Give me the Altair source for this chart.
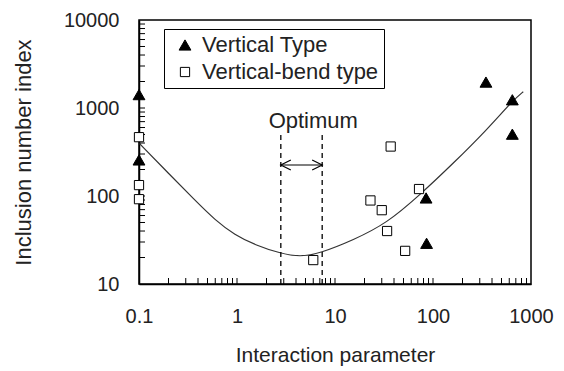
import altair as alt
import pandas as pd

# ---- data ----
series = ["Vertical Type", "Vertical-bend type"]

vt_x = [0.1, 0.1, 85, 86, 347, 645, 645]
vt_y = [1420, 257, 95, 29, 1970, 1240, 504]

vb_x = [0.1, 0.1, 0.1, 6.0, 23, 30, 34, 52, 72, 37]
vb_y = [466, 133, 92, 18.7, 89, 69, 40, 23.8, 120, 365]

curve_x = [0.1, 0.2, 0.37, 0.6, 0.95, 1.53, 2.75, 4.4, 7.0, 15.4, 33.7, 73.6, 161, 353, 659, 834]
curve_y = [400, 181, 90, 53, 36, 27.8, 22.3, 20.3, 22.3, 31.6, 48.9, 103, 235, 562, 1233, 1531]

opt_lo, opt_hi = 2.8, 7.4
opt_top = 533
arrow_y = 225
opt_label = "Optimum"
opt_label_x, opt_label_y = 6.0, 593

x_major = [0.1, 1, 10, 100, 1000]
y_major = [10, 100, 1000, 10000]
x_minor = [0.2, 0.3, 0.4, 0.5, 0.6, 0.7, 0.8, 0.9, 1,
           2, 3, 4, 5, 6, 7, 8, 9, 10,
           20, 30, 40, 50, 60, 70, 80, 90, 100,
           200, 300, 400, 500, 600, 700, 800, 900]
y_minor = [20, 30, 40, 50, 60, 70, 80, 90, 100,
           200, 300, 400, 500, 600, 700, 800, 900, 1000,
           2000, 3000, 4000, 5000, 6000, 7000, 8000, 9000]

W, H = 392, 264
FONT = "Liberation Sans"
TXT = "#222222"

pts = pd.DataFrame({
    "x": vt_x + vb_x,
    "y": vt_y + vb_y,
    "type": [series[0]] * len(vt_x) + [series[1]] * len(vb_x),
})
curve = pd.DataFrame({"x": curve_x, "y": curve_y})
opt_df = pd.DataFrame({"x": [opt_lo, opt_hi], "y": [10, 10], "y2": [opt_top, opt_top]})
arrow_df = pd.DataFrame({"x": [opt_lo], "x2": [opt_hi], "y": [arrow_y]})
lab_df = pd.DataFrame({"x": [opt_label_x], "y": [opt_label_y], "t": [opt_label]})
xt_df = pd.DataFrame({"x": x_minor})
yt_df = pd.DataFrame({"y": y_minor})

xs = alt.Scale(type="log", domain=[0.1, 1000], nice=False)
ys = alt.Scale(type="log", domain=[10, 10000], nice=False)

x_axis = alt.Axis(values=x_major, labelExpr="'' + datum.value", title="Interaction parameter",
                  ticks=False, grid=False, labelFontSize=20, labelPadding=22,
                  titleFontSize=21, titlePadding=18, labelFont=FONT, titleFont=FONT,
                  labelColor=TXT, titleColor=TXT, titleFontWeight="normal",
                  domainColor="black", domainWidth=1.5, labelFlush=False)
y_axis = alt.Axis(values=y_major, labelExpr="'' + datum.value", title="Inclusion number index",
                  ticks=False, grid=False, labelFontSize=20, labelPadding=20,
                  titleFontSize=22, titlePadding=28, labelFont=FONT, titleFont=FONT,
                  labelColor=TXT, titleColor=TXT, titleFontWeight="normal",
                  domainColor="black", domainWidth=1.5, labelFlush=False)


def X(field):
    return alt.X(field, type="quantitative", scale=xs, axis=x_axis)


def Y(field):
    return alt.Y(field, type="quantitative", scale=ys, axis=y_axis)


line = alt.Chart(curve).mark_line(color="#333333", strokeWidth=1.2, interpolate="basis").encode(
    x=X("x"), y=Y("y"),
)

xticks = alt.Chart(xt_df).mark_rule(color="black", strokeWidth=1).encode(
    x=X("x"), y=alt.value(H), y2=alt.value(H - 6),
)
yticks = alt.Chart(yt_df).mark_rule(color="black", strokeWidth=1).encode(
    y=Y("y"), x=alt.value(0), x2=alt.value(6),
)

dashed = alt.Chart(opt_df).mark_rule(color="black", strokeWidth=1.3, strokeDash=[5, 4]).encode(
    x=X("x"), y=Y("y"), y2="y2:Q",
)
arrow = alt.Chart(arrow_df).mark_rule(color="black", strokeWidth=1.2).encode(
    x=X("x"), x2="x2:Q", y=Y("y"),
)
head_l = alt.Chart(arrow_df).mark_point(shape="M2,-1L0,0L2,1", size=100, filled=False,
                                        color="black", strokeWidth=1.2, opacity=1).encode(
    x=X("x"), y=Y("y"),
)
head_r = alt.Chart(arrow_df).mark_point(shape="M-2,-1L0,0L-2,1", size=100, filled=False,
                                        color="black", strokeWidth=1.2, opacity=1).encode(
    x=X("x2"), y=Y("y"),
)
label = alt.Chart(lab_df).mark_text(font=FONT, fontSize=22, color=TXT, align="center",
                                    baseline="alphabetic").encode(
    x=X("x"), y=Y("y"), text="t:N",
)

legend = alt.Legend(title=None, orient="none", legendX=25, legendY=9, strokeColor="black",
                    padding=5, symbolOffset=5, labelOffset=6, rowPadding=5, labelLimit=400,
                    labelFont=FONT, labelFontSize=22, labelColor=TXT,
                    symbolStrokeColor="black", symbolStrokeWidth=1, fillColor="white")

points = alt.Chart(pts).mark_point(filled=True, strokeWidth=1, opacity=1).encode(
    x=X("x"), y=Y("y"),
    shape=alt.Shape("type:N", scale=alt.Scale(domain=series, range=["triangle-up", "square"]), legend=legend),
    fill=alt.Fill("type:N", scale=alt.Scale(domain=series, range=["black", "white"]), legend=legend),
    stroke=alt.Stroke("type:N", scale=alt.Scale(domain=series, range=["black", "black"]), legend=legend),
    size=alt.Size("type:N", scale=alt.Scale(domain=series, range=[140, 85]), legend=legend),
)

chart = alt.layer(line, xticks, yticks, dashed, arrow, head_l, head_r, label, points).properties(
    width=W, height=H,
    autosize=alt.AutoSizeParams(type="none"),
    padding={"left": 139, "top": 20, "right": 33, "bottom": 87},
    background="white",
).configure_view(stroke="black", strokeWidth=1.5)

chart.save("out.html", embed_options={"renderer": "svg", "actions": False})
